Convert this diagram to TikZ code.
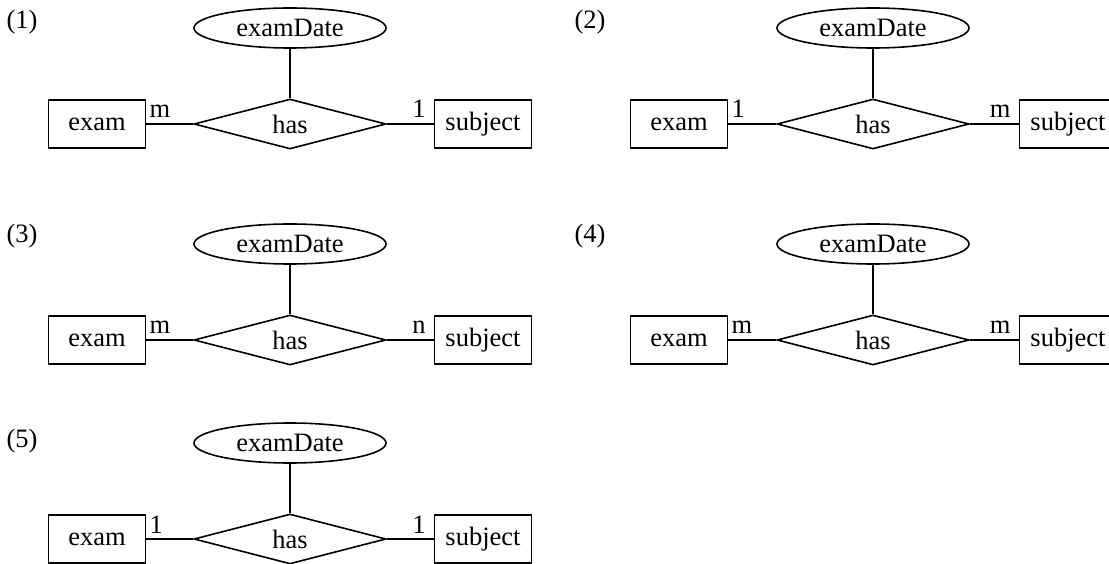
\documentclass[tikz,border=0pt]{standalone}
\usepackage{fontspec}
\setmainfont{Liberation Serif}
\usetikzlibrary{shapes.geometric}
\tikzset{
  txt/.style={font=\fontsize{26.5}{30}\selectfont},
  entity/.style={txt, draw, line width=1.6pt, rectangle, minimum width=97pt, minimum height=48pt, inner sep=0pt},
  rel/.style={txt, draw, line width=1.6pt, diamond, aspect=3.8, minimum width=192pt, minimum height=50pt, inner sep=0pt},
  attr/.style={txt, draw, line width=1.6pt, ellipse, minimum width=192pt, minimum height=40pt, inner sep=0pt},
  link/.style={line width=1.6pt},
  card/.style={txt, inner sep=0pt},
  tag/.style={txt, inner sep=0pt}
}
\newcommand{\erd}[7]{%
  % #1 prefix, #2 diamond x, #3 row y, #4 exam x, #5 subject x, #6 left card, #7 right card
  \node[entity] (#1e) at (#4,#3) {exam};
  \node[rel] (#1r) at (#2,#3) {has};
  \node[entity] (#1s) at (#5,#3) {subject};
  \node[attr] (#1a) at (#2,#3-96) {examDate};
  \draw[link] (#1e) -- (#1r);
  \draw[link] (#1r) -- (#1s);
  \draw[link] (#1a) -- (#1r);
  \node[card, anchor=base west] (#1cl) at ([xshift=3pt,yshift=6pt]#1e.east) {#6};
  \node[card, anchor=base east] (#1cr) at ([xshift=-8pt,yshift=6pt]#1s.west) {#7};
}
\begin{document}
\begin{tikzpicture}[x=1pt,y=-1pt]
  \useasboundingbox (0,0) rectangle (1109,564);
  \erd{d1}{290}{124}{97}{483}{m}{1}
  \erd{d2}{873}{124}{679}{1068}{1}{m}
  \erd{d3}{290}{340}{97}{483}{m}{n}
  \erd{d4}{873}{340}{679}{1068}{m}{m}
  \erd{d5}{290}{539}{97}{483}{1}{1}
  \node[tag] (t1) at (22,22) {(1)};
  \node[tag] (t2) at (590,22) {(2)};
  \node[tag] (t3) at (22,236) {(3)};
  \node[tag] (t4) at (590,236) {(4)};
  \node[tag] (t5) at (22,441) {(5)};
\end{tikzpicture}
\end{document}
